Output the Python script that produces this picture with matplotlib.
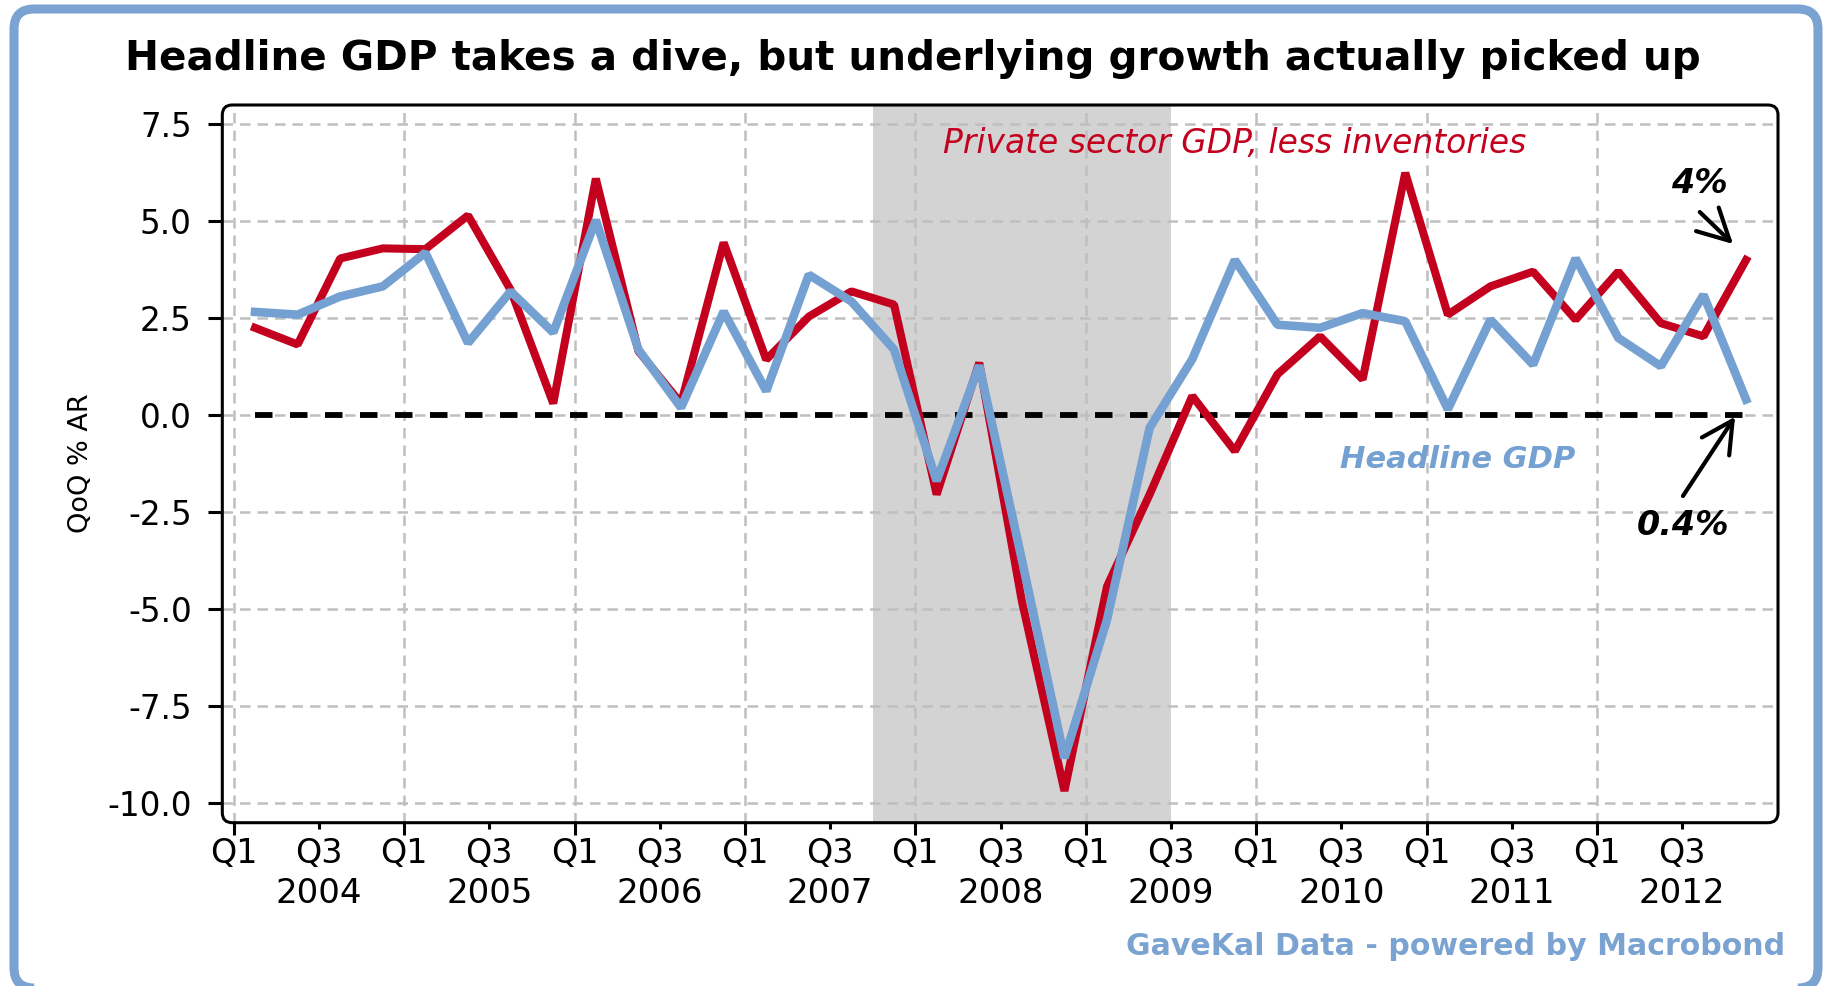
import matplotlib
matplotlib.use("Agg")
import matplotlib.pyplot as plt
import numpy as np
from matplotlib.patches import FancyBboxPatch


C_RED = "#C4001F"
C_BLUE = "#74A1D1"
C_SHADE = "#D3D3D3"
C_GRID = "#BFBFBF"
C_BORDER = "#7AA3D2"

years = [2004, 2005, 2006, 2007, 2008, 2009, 2010, 2011, 2012]
quarters = [f"{y}Q{q}" for y in years for q in range(1, 5)]

# QoQ % annualised, 2004Q1 .. 2012Q4
private_less_inv = [
    2.25, 1.82, 4.04, 4.30, 4.28, 5.15, 3.23, 0.30, 6.10, 1.65, 0.30, 4.45,
    1.43, 2.54, 3.19, 2.85, -2.05, 1.35, -4.80, -9.70, -4.42, -2.05, 0.49, -0.93,
    1.05, 2.03, 0.92, 6.25, 2.59, 3.32, 3.70, 2.46, 3.70, 2.37, 2.03, 4.00,
]
headline_gdp = [
    2.66, 2.59, 3.06, 3.32, 4.19, 1.86, 3.19, 2.13, 5.03, 1.69, 0.19, 2.67,
    0.62, 3.62, 2.93, 1.69, -1.70, 1.28, -3.73, -8.85, -5.28, -0.33, 1.44, 4.00,
    2.33, 2.25, 2.63, 2.42, 0.15, 2.46, 1.30, 4.04, 1.99, 1.26, 3.10, 0.40,
]
recession_start = "2007Q4"
recession_end = "2009Q3"

y_ticks = [-10.0, -7.5, -5.0, -2.5, 0.0, 2.5, 5.0, 7.5]

TITLE = "Headline GDP takes a dive, but underlying growth actually picked up"


def main():
    fig = plt.figure(figsize=(18.25, 9.86), dpi=100)
    ax = fig.add_axes([0.12181, 0.16562, 0.85244, 0.72789])

    x = np.arange(len(quarters)) + 0.5
    ax.axvspan(quarters.index(recession_start), quarters.index(recession_end),
               color=C_SHADE, lw=0, zorder=0)
    ax.grid(True, which="major", color=C_GRID, lw=1.8, ls=(0, (4.2, 2.8)))

    ax.plot(x, np.zeros_like(x), color="black", lw=4.2, dashes=(3.0, 3.0), zorder=2.5)
    ax.plot(x, private_less_inv, color=C_RED, lw=5.8, solid_joinstyle="bevel", zorder=3)
    ax.plot(x, headline_gdp, color=C_BLUE, lw=6.2, solid_joinstyle="bevel", zorder=4)

    ax.set_xlim(-0.268, 36.25)
    ax.set_ylim(-10.52, 8.0)

    n = len(quarters)
    ax.set_xticks(np.arange(0, n, 4), labels=["Q1"] * len(years))
    ax.set_xticks(np.arange(2, n, 4), labels=["Q3"] * len(years), minor=True)
    ax.set_yticks(y_ticks, labels=[f"{v:.1f}" for v in y_ticks])
    ax.tick_params(axis="x", which="major", direction="out", length=8.6, width=2.2,
                   pad=1.5, labelsize=24)
    ax.tick_params(axis="x", which="minor", direction="out", length=4.3, width=2.2,
                   pad=5.8, labelsize=24)
    ax.tick_params(axis="y", direction="out", length=10, width=2.2, pad=12, labelsize=23.5)

    for k, yr in enumerate(years):
        ax.text(4 * k + 2, -0.1119, str(yr), transform=ax.get_xaxis_transform(),
                ha="center", va="baseline", fontsize=24.5)

    for spine in ax.spines.values():
        spine.set_visible(False)
    frame = FancyBboxPatch((0, 0), 1, 1, boxstyle="round,pad=0,rounding_size=0.0064",
                           transform=ax.transAxes, mutation_aspect=2.168,
                           fill=False, ec="black", lw=2.2, clip_on=False, zorder=6)
    ax.add_artist(frame)

    # series labels and call-outs
    ax.text(0.4633, 0.9331, "Private sector GDP, less inventories", transform=ax.transAxes,
            ha="left", va="baseline", fontsize=23.7, style="italic", color=C_RED)
    ax.text(0.7186, 0.4943, "Headline GDP", transform=ax.transAxes, ha="left",
            va="baseline", fontsize=22, style="italic", fontweight="bold", color=C_BLUE)
    ax.text(0.9497, 0.8773, "4%", transform=ax.transAxes, ha="center", va="baseline",
            fontsize=24, style="italic", fontweight="bold")
    ax.text(0.9389, 0.4009, "0.4%", transform=ax.transAxes, ha="center", va="baseline",
            fontsize=24, style="italic", fontweight="bold")
    arrow = dict(arrowstyle="->,head_length=0.8,head_width=0.42", lw=3, color="black",
                 shrinkA=0, shrinkB=0, mutation_scale=28)
    ax.annotate("", xy=(0.9711, 0.8063), xytext=(0.9497, 0.8509),
                xycoords="axes fraction", arrowprops=arrow)
    ax.annotate("", xy=(0.9724, 0.5657), xytext=(0.9389, 0.4552),
                xycoords="axes fraction", arrowprops=arrow)

    fig.text(0.5, 0.929, TITLE, ha="center", va="baseline", fontsize=29.2,
             fontweight="bold")
    fig.text(0.0445, 0.530, "QoQ % AR", rotation=90, ha="center", va="center",
             fontsize=19.5)
    fig.text(0.978, 0.0314, "GaveKal Data - powered by Macrobond", ha="right",
             va="baseline", fontsize=21.6, fontweight="bold", color=C_BORDER)

    border = FancyBboxPatch((14 / 1825, -2 / 986), 1804 / 1825, 979 / 986,
                            boxstyle="round,pad=0,rounding_size=0.011",
                            transform=fig.transFigure, mutation_aspect=1825 / 986,
                            fill=False, ec=C_BORDER, lw=6.5)
    fig.add_artist(border)

    fig.savefig("out.png", dpi=100)
    plt.close(fig)


if __name__ == "__main__":
    main()
